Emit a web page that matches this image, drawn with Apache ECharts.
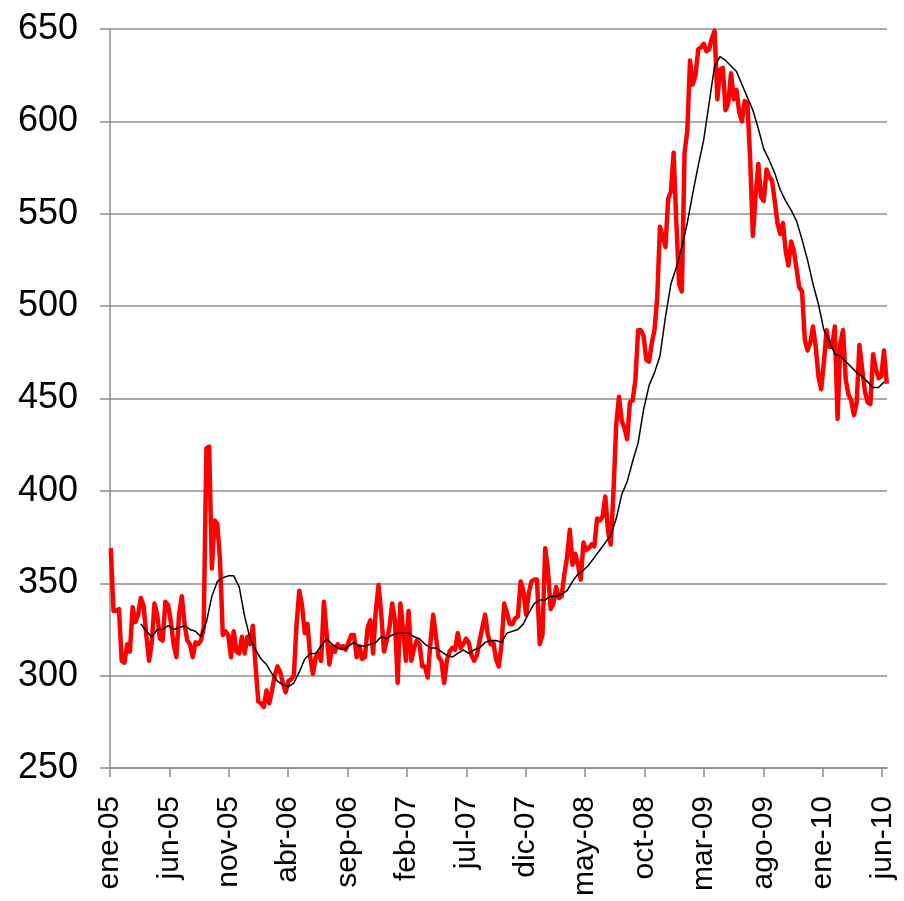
<!DOCTYPE html>
<html><head><meta charset="utf-8">
<script src="https://cdn.jsdelivr.net/npm/echarts@6/dist/echarts.min.js"></script>
<style>html,body{margin:0;padding:0;background:#fff}#c{width:904px;height:901px}</style>
</head><body><div id="c"></div>
<script>
// X tick labels every 5 months starting January 2005
const xTickLabels = ['ene-05','jun-05','nov-05','abr-06','sep-06','feb-07','jul-07','dic-07','may-08','oct-08','mar-09','ago-09','ene-10','jun-10'];
const xTickStepMonths = 5;
const xMaxMonths = 65.4;
const yMin = 250, yMax = 650, yStep = 50;

// Weekly red series (week 0 = first week of January 2005)
const redValues = [
369,335,335,336,308,307,317,313,337,329,333,342,338,322,308,318,339,333,320,319,
340,338,329,317,310,333,343,328,319,317,310,318,317,319,326,423,424,358,384,382,
362,322,324,322,310,324,313,312,321,312,321,317,327,305,286,285,283,292,285,292,
300,305,302,296,291,297,298,300,328,346,338,323,328,310,301,310,312,308,340,323,
306,316,313,317,315,316,314,318,322,322,310,316,309,310,326,330,312,335,349,333,
313,319,326,339,330,296,339,325,308,335,308,315,319,317,305,305,299,318,333,321,
310,308,296,308,313,315,314,323,315,317,320,318,311,308,311,319,326,333,322,317,
318,309,305,317,339,334,328,328,331,332,351,346,333,345,351,352,352,317,322,369,
357,336,339,348,342,343,355,364,379,360,366,360,352,372,368,369,371,370,385,384,
386,397,378,371,400,436,451,438,434,428,448,449,460,487,487,484,471,470,480,487,
505,543,538,532,558,562,583,545,512,508,583,595,633,620,625,639,640,642,638,639,
645,649,612,628,629,606,610,626,612,617,605,600,611,610,580,538,560,577,559,557,
574,570,568,557,545,539,545,530,522,535,530,520,510,508,482,476,480,489,478,462,
455,470,487,478,478,489,439,480,487,460,452,449,441,448,479,466,454,448,447,474,
466,461,462,476,458
];

// Black smoothed series, sampled every 2 weeks starting at week 11
const blackStartWeek = 11;
const blackStepWeeks = 2;
const blackValues = [
328,324,321,325,325,327,325,326,327,325,324,321,329,343,351,353,354,354,348,
332,320,314,309,306,301,297,295,294,296,302,309,312,312,316,320,317,315,314,316,318,316,316,317,
318,321,320,322,323,323,323,321,320,317,315,315,313,311,310,312,314,312,314,315,318,319,319,318,
323,324,325,328,334,339,341,341,343,343,344,346,351,355,357,360,364,368,372,376,385,398,
405,416,426,444,457,464,473,494,512,521,532,545,561,576,590,610,630,
635,633,630,627,620,613,606,596,585,579,572,563,557,552,546,536,525,512,501,487,481,474,473,470,467,464,462,459,456,456,459
];

const firstDayOffset = 2; // days after 1 Jan 2005 of week 0
function weekToMonth(k) { return (firstDayOffset + 7 * k) / 30.4375; }

const redData = redValues.map((v, k) => [weekToMonth(k), v]);
const blackData = blackValues.map((v, i) => [weekToMonth(blackStartWeek + i * blackStepWeeks), v]);
const xTickValues = xTickLabels.map((_, i) => i * xTickStepMonths);

const gridGray = '#8c8c8c';
const chart = echarts.init(document.getElementById('c'), null, {renderer: 'canvas'});
chart.setOption({
  animation: false,
  backgroundColor: '#ffffff',
  grid: {left: 110, right: 17, top: 29, bottom: 133, containLabel: false},
  xAxis: {
    type: 'value', min: 0, max: xMaxMonths,
    axisLine: {show: true, onZero: false, lineStyle: {color: gridGray, width: 1.5}},
    axisTick: {show: true, length: 9, customValues: xTickValues, lineStyle: {color: gridGray, width: 1.5}},
    splitLine: {show: false},
    axisLabel: {
      customValues: xTickValues,
      rotate: 90, margin: 28,
      fontFamily: 'Liberation Sans, Arial, sans-serif', fontSize: 30, color: '#000',
      formatter: v => xTickLabels[Math.round(v / xTickStepMonths)] || ''
    }
  },
  yAxis: {
    type: 'value', min: yMin, max: yMax, interval: yStep,
    axisLine: {show: true, lineStyle: {color: gridGray, width: 1.5}},
    axisTick: {show: true, length: 10, lineStyle: {color: gridGray, width: 1.5}},
    splitLine: {show: true, lineStyle: {color: gridGray, width: 1.5}},
    axisLabel: {margin: 32, fontFamily: 'Liberation Sans, Arial, sans-serif', fontSize: 36, color: '#000'}
  },
  series: [
    {type: 'line', data: redData, showSymbol: false, symbol: 'none',
     lineStyle: {color: '#ff0000', width: 4.5, join: 'round'}, z: 2},
    {type: 'line', data: blackData, showSymbol: false, symbol: 'none',
     lineStyle: {color: '#000000', width: 1.5}, z: 3}
  ]
});
</script>
</body></html>
